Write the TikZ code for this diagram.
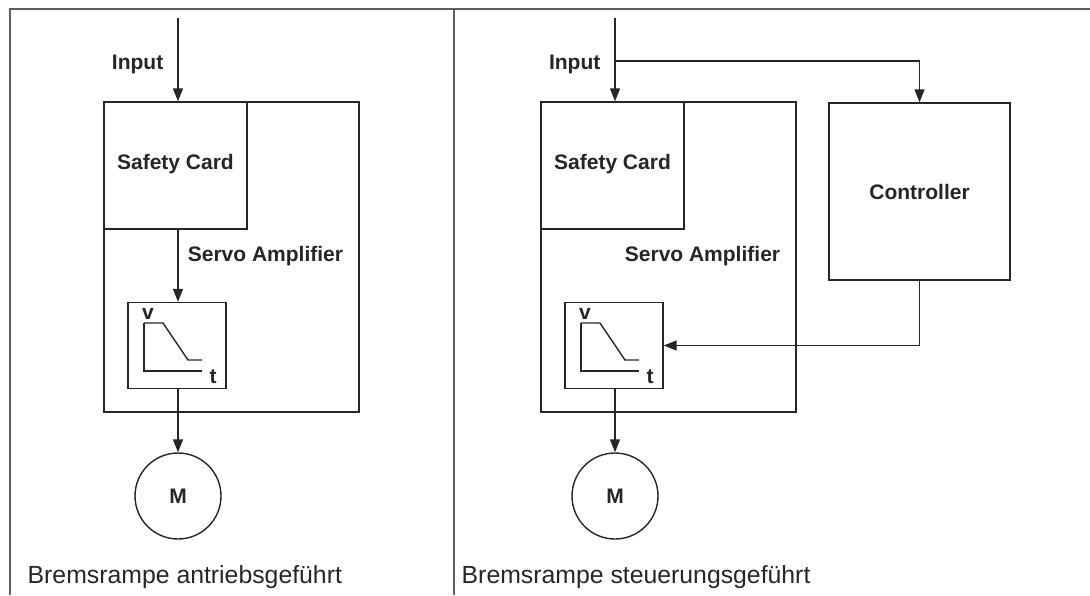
\documentclass[tikz,border=0pt]{standalone}
\usepackage{fontspec}
\setmainfont{Liberation Sans}
\usetikzlibrary{positioning,calc,arrows.meta}

\definecolor{linegray}{HTML}{262626}
\definecolor{framegray}{HTML}{5E5E5E}

\tikzset{
  block/.style={draw=linegray, line width=0.7pt, inner sep=0pt},
  lbl/.style={font=\fontsize{10.5}{12}\selectfont\bfseries, text=linegray, inner sep=0pt},
  caption/.style={font=\fontsize{12.4}{14}\selectfont, text=linegray, inner sep=0pt, anchor=base west},
  motor/.style={circle, draw=linegray, line width=0.7pt, minimum size=43pt, inner sep=0pt},
  frame/.style={draw=framegray, line width=1pt},
}

\begin{document}
\begin{tikzpicture}[x=0.5pt, y=-0.5pt, >={Triangle[length=6.5pt,width=5pt]}, color=linegray, line width=0.7pt]
  \useasboundingbox (0,0) rectangle (1090,595);

  % frame
  \draw[frame] (10,595) -- (10,9) -- (1090,9);
  \draw[frame] (454,9) -- (454,595);

  % left: drive controlled
  \coordinate (in1) at (178,18);
  \node[block, minimum width=127.5pt, minimum height=155pt] (amp1) at (231.5,257) {};
  \node[block, minimum width=71.5pt, minimum height=63.5pt] (card1) at (175.5,165.5) {};
  \node[lbl, anchor=base] (cardlbl1) at (175.5,169) {Safety Card};
  \node[lbl, anchor=base] (amplbl1) at (265.5,261) {Servo Amplifier};
  \node[lbl, anchor=base east] (inlbl1) at (164,69) {Input};
  \node[block, minimum width=49pt, minimum height=43pt] (vt1) at (177,345.5) {};
  \draw (144,323) -- (144,371) -- (202,371);
  \draw (144,323) -- (163,323) -- (188,360) -- (202,360);
  \node[lbl] (v1) at (148,314) {v};
  \node[lbl] (t1) at (213,377) {t};
  \node[motor, lbl, draw] (m1) at (178,496) {M};
  \draw[->] (in1) -- (in1 |- amp1.north);
  \draw[->] (in1 |- card1.south) -- (in1 |- vt1.north);
  \draw[->] (in1 |- vt1.south) -- (m1.north);
  \node[caption] (cap1) at (27,583) {Bremsrampe antriebsgeführt};

  % right: controller guided
  \coordinate (in2) at (615,18);
  \coordinate (br) at (615,61);
  \node[block, minimum width=127.5pt, minimum height=155pt] (amp2) at (668.5,257) {};
  \node[block, minimum width=71.5pt, minimum height=63.5pt] (card2) at (612.5,165.5) {};
  \node[lbl, anchor=base] (cardlbl2) at (612.5,169) {Safety Card};
  \node[lbl, anchor=base] (amplbl2) at (702.5,261) {Servo Amplifier};
  \node[lbl, anchor=base east] (inlbl2) at (601,69) {Input};
  \node[block, lbl, minimum width=90.5pt, minimum height=88.5pt, text depth=0pt] (ctl) at (919.5,191.5) {Controller};
  \node[block, minimum width=49pt, minimum height=43pt] (vt2) at (614,345.5) {};
  \draw (581,323) -- (581,371) -- (639,371);
  \draw (581,323) -- (600,323) -- (625,360) -- (639,360);
  \node[lbl] (v2) at (585,314) {v};
  \node[lbl] (t2) at (650,377) {t};
  \node[motor, lbl, draw] (m2) at (615,496) {M};
  \draw[->] (in2) -- (in2 |- amp2.north);
  \draw[->] (br) -| (ctl.north);
  \draw[->] (ctl.south) |- (vt2.east);
  \draw[->] (in2 |- vt2.south) -- (m2.north);
  \node[caption] (cap2) at (461,583) {Bremsrampe steuerungsgeführt};
\end{tikzpicture}
\end{document}
